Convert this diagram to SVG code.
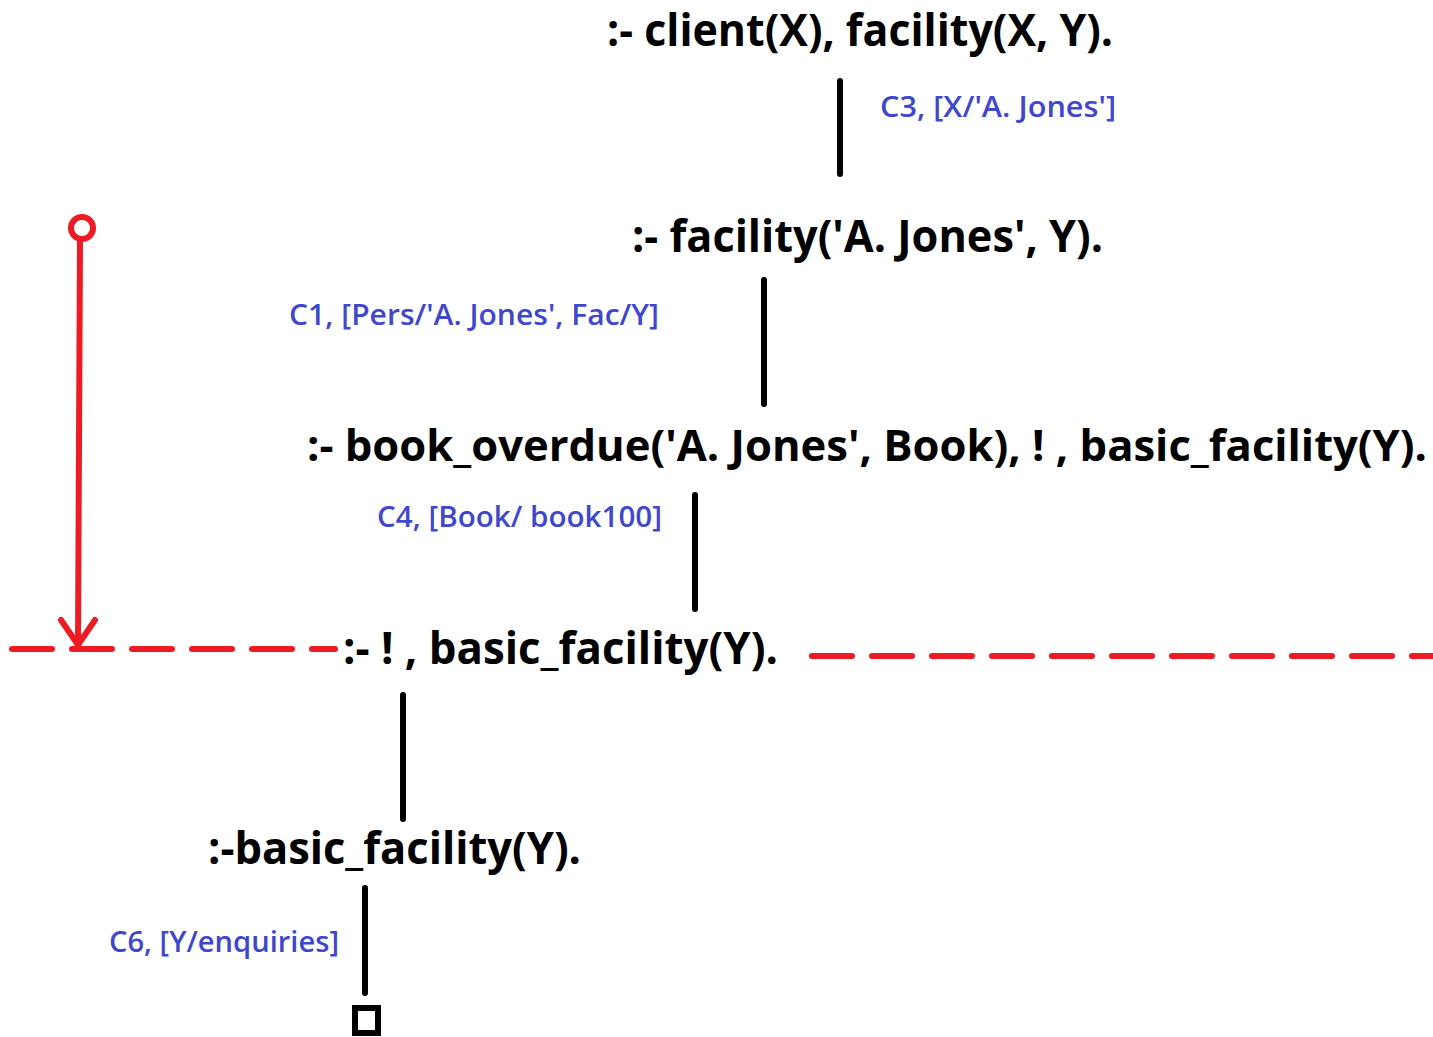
<svg xmlns="http://www.w3.org/2000/svg" width="1433" height="1037" viewBox="0 0 1433 1037">
<style>
.goal{font-family:"Open Sans","Noto Sans",sans-serif;font-weight:bold;font-size:44px;fill:#000}
.lbl{font-family:"Open Sans","Noto Sans",sans-serif;font-weight:600;font-size:28px;fill:#3f48cc}
.edge{stroke:#000;stroke-width:6;stroke-linecap:round;fill:none}
.red{stroke:#ed1c24;stroke-width:6;stroke-linecap:round;fill:none}
.dash{stroke:#ed1c24;stroke-width:6;stroke-linecap:round;fill:none;stroke-dasharray:40 20}
</style>
<rect width="1433" height="1037" fill="#fff"/>
<g id="connectors">
<line class="edge" x1="840" y1="81" x2="840" y2="174"/>
<line class="edge" x1="764" y1="280" x2="764" y2="404"/>
<line class="edge" x1="695" y1="495" x2="695" y2="609"/>
<line class="edge" x1="403" y1="695" x2="403" y2="819"/>
<line class="edge" x1="365" y1="888" x2="365" y2="993"/>
</g>
<g id="labels">
<text class="lbl" x="880" y="117" textLength="236" lengthAdjust="spacingAndGlyphs">C3, [X/'A. Jones']</text>
<text class="lbl" x="289" y="325" textLength="370" lengthAdjust="spacingAndGlyphs">C1, [Pers/'A. Jones', Fac/Y]</text>
<text class="lbl" x="377" y="527" textLength="285" lengthAdjust="spacingAndGlyphs">C4, [Book/ book100]</text>
<text class="lbl" x="109" y="952" textLength="230" lengthAdjust="spacingAndGlyphs">C6, [Y/enquiries]</text>
</g>
<g id="n1"><text class="goal" x="607" y="46" textLength="506" lengthAdjust="spacingAndGlyphs">:- client(X), facility(X, Y).</text></g>
<g id="n2"><text class="goal" x="632" y="252" textLength="471" lengthAdjust="spacingAndGlyphs">:- facility('A. Jones', Y).</text></g>
<g id="n3"><text class="goal" transform="translate(307,461) scale(1,1.12)" x="0" y="0" style="font-size:39px" textLength="1120" lengthAdjust="spacingAndGlyphs">:- book_overdue('A. Jones', Book), ! , basic_facility(Y).</text></g>
<g id="n4"><text class="goal" x="343" y="664" textLength="435" lengthAdjust="spacingAndGlyphs">:- ! , basic_facility(Y).</text></g>
<g id="n5"><text class="goal" x="208" y="864" textLength="373" lengthAdjust="spacingAndGlyphs">:-basic_facility(Y).</text></g>
<g id="n6"><rect x="355" y="1008" width="23" height="25" fill="none" stroke="#000" stroke-width="6"/></g>
<g id="cut">
<circle cx="82" cy="228" r="11" class="red" stroke-width="5"/>
<line class="red" x1="80" y1="240" x2="78" y2="644"/>
<polyline class="red" points="61,620 78,645 95,620"/>
<line class="dash" x1="12" y1="649" x2="335" y2="649"/>
<line class="dash" x1="812" y1="656" x2="1433" y2="656"/>
</g>
</svg>
